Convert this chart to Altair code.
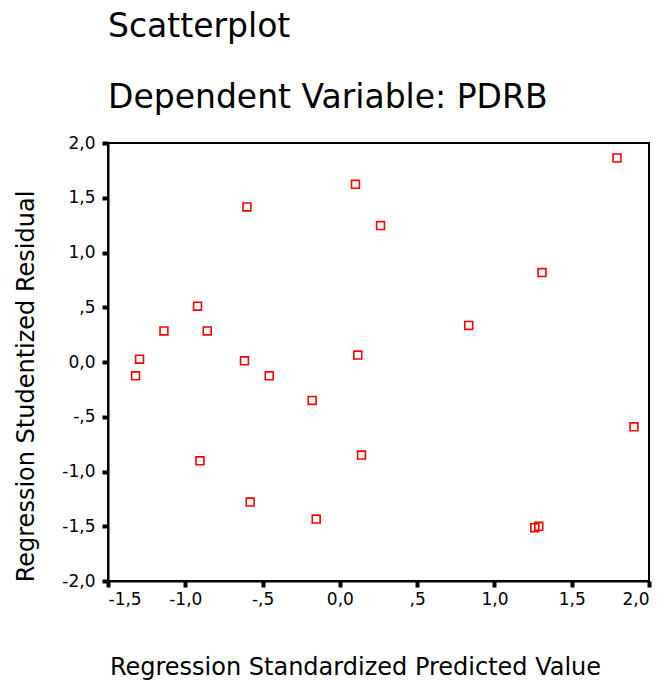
import altair as alt
import pandas as pd

# Regression diagnostics: standardized predicted value vs studentized residual
pred_std = [1.793, 0.101, -0.601, 0.263, 1.308, -0.921, -1.138, -0.858, 0.834,
            -1.296, -0.617, 0.116, -1.322, -0.457, -0.179, 1.903, -0.905, 0.140,
            -0.580, -0.153, 1.261, 1.287]
resid_stud = [1.863, 1.623, 1.416, 1.246, 0.817, 0.510, 0.284, 0.284, 0.334,
              0.026, 0.011, 0.063, -0.126, -0.126, -0.351, -0.592, -0.902, -0.850,
              -1.279, -1.434, -1.513, -1.501]

x_ticks = [-1.5, -1.0, -0.5, 0.0, 0.5, 1.0, 1.5, 2.0]
x_tick_labels = ["-1,5", "-1,0", "-,5", "0,0", ",5", "1,0", "1,5", "2,0"]
y_ticks = [-2.0, -1.5, -1.0, -0.5, 0.0, 0.5, 1.0, 1.5, 2.0]
y_tick_labels = ["-2,0", "-1,5", "-1,0", "-,5", "0,0", ",5", "1,0", "1,5", "2,0"]

df = pd.DataFrame({"pred": pred_std, "resid": resid_stud})


def label_expr(values, labels):
    # nested ternary mapping tick value -> comma-decimal label
    expr = "''"
    for v, lab in reversed(list(zip(values, labels))):
        expr = f"abs(datum.value - ({v})) < 1e-6 ? '{lab}' : ({expr})"
    return expr


FONT = "DejaVu Sans"

axis_common = dict(
    grid=False,
    domainColor="black",
    domainWidth=2,
    tickColor="black",
    tickWidth=4,
    tickSize=6,
    labelFont=FONT,
    labelFontSize=17,
    labelColor="black",
    titleFont=FONT,
    titleFontSize=24,
    titleFontWeight="normal",
    titleColor="black",
)

chart = (
    alt.Chart(df)
    .mark_point(shape="square", filled=False, color="#ff0000", size=62, strokeWidth=1.6, opacity=1)
    .encode(
        x=alt.X(
            "pred:Q",
            scale=alt.Scale(domain=[-1.5, 2.0], nice=False, zero=False),
            axis=alt.Axis(
                values=x_ticks,
                labelExpr=label_expr(x_ticks, x_tick_labels),
                labelPadding=4,
                title="Regression Standardized Predicted Value",
                titleX=247,
                titleY=93,
                titleBaseline="alphabetic",
                titleAlign="center",
                **axis_common,
            ),
        ),
        y=alt.Y(
            "resid:Q",
            scale=alt.Scale(domain=[-2.0, 2.0], nice=False, zero=False),
            axis=alt.Axis(
                values=y_ticks,
                labelExpr=label_expr(y_ticks, y_tick_labels),
                labelPadding=7,
                title="Regression Studentized Residual",
                titleAngle=-90,
                titleX=-75,
                titleY=243,
                titleBaseline="alphabetic",
                titleAlign="center",
                **axis_common,
            ),
        ),
    )
    .properties(
        width=541,
        height=438,
        title=alt.TitleParams(
            text=["Scatterplot", "Dependent Variable: PDRB"],
            anchor="start",
            frame="group",
            font=FONT,
            fontSize=33,
            fontWeight="normal",
            color="black",
            lineHeight=71,
            offset=19,
        ),
        autosize=alt.AutoSizeParams(type="none"),
        padding={"left": 108, "top": 143, "right": 17, "bottom": 100},
        background="white",
    )
    .configure_view(stroke="black", strokeWidth=2)
)

chart.save("out.html", embed_options={"renderer": "svg", "actions": False})
